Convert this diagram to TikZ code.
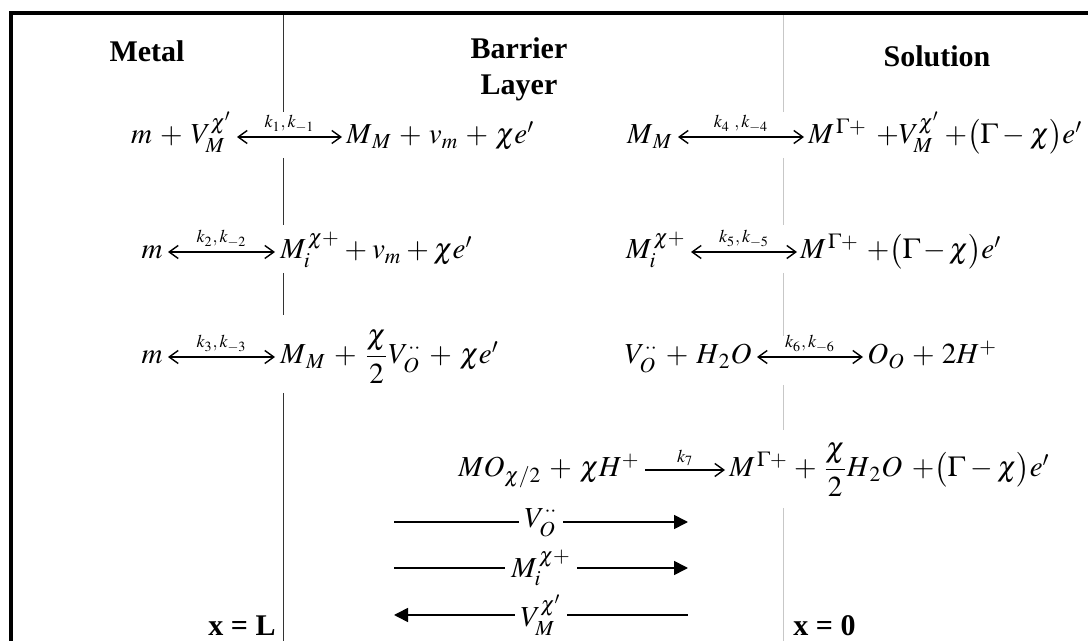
\documentclass[tikz,border=0pt]{standalone}
\usepackage{amsmath}
\usepackage{mathptmx}
\usepackage[no-math]{fontspec}
\setmainfont{Liberation Serif}
\usetikzlibrary{arrows.meta}
\medmuskip=5mu plus 2mu minus 4mu
\begin{document}
\begin{tikzpicture}[x=0.5pt,y=-0.5pt,
  eq/.style={inner sep=0pt, font=\fontsize{14.5}{17}\selectfont},
  eqL/.style={eq, anchor=base east},
  eqR/.style={eq, anchor=base west},
  ttl/.style={inner sep=0pt, font=\fontsize{15}{18}\selectfont\bfseries},
  rx/.style={line width=0.7pt, {Straight Barb[length=4.5pt,width=6.5pt]}-{Straight Barb[length=4.5pt,width=6.5pt]}},
  fx/.style={line width=0.7pt, -{Straight Barb[length=4.5pt,width=6.5pt]}},
  kl/.style={midway, above, inner sep=2pt, font=\fontsize{9}{10}\selectfont},
  flowR/.style={line width=0.8pt, -{Triangle[length=7pt,width=7pt]}},
  flowL/.style={line width=0.8pt, {Triangle[length=7pt,width=7pt]}-},
  flab/.style={eq, fill=white, inner sep=3pt},
  frame/.style={line width=1.85pt, black},
  divL/.style={line width=0.55pt, black!80},
  divR/.style={line width=0.75pt, black!22},
]
\useasboundingbox (0,0) rectangle (1088,641);
% frame
\draw[frame] (11,641) -- (11,13.3) -- (1088,13.3);
% dividers
\draw[divL] (283.5,15) -- (283.5,112) (283.5,158) -- (283.5,225) (283.5,273) -- (283.5,315) (283.5,393) -- (283.5,641);
\draw[divR] (783.5,15) -- (783.5,112) (783.5,158) -- (783.5,225) (783.5,273) -- (783.5,336) (783.5,385) -- (783.5,430) (783.5,508) -- (783.5,641);
% titles
\node[ttl] (metal) at (147,51) {Metal};
\node[ttl, align=center] (barrier) at (519,69) {Barrier\\Layer};
\node[ttl] (sol) at (937,56) {Solution};
\node[ttl, anchor=base east] (xL) at (276,636) {x = L};
\node[ttl, anchor=base west] (x0) at (793,636) {x = 0};
% row 1
\coordinate (a1) at (237,137); \coordinate (b1) at (342,137);
\node[eqL] (r1l) at (232,144) {$m+V_M^{\chi'}$};
\node[eqR] (r1r) at (346,144) {$\medmuskip=4.5mu M_{\,M}+v_m+\chi e'$};
\draw[rx] (a1) -- node[kl]{$k_1,k_{-1}$} (b1);
\coordinate (c1) at (678,137); \coordinate (d1) at (804,137);
\node[eqL] (s1l) at (673,144) {$M_{\,M}$};
\node[eqR] (s1r) at (808,144) {$M^{\,\Gamma+}\mskip6mu{+}V_M^{\chi'}\mskip3mu{+}\bigl(\Gamma\mskip3mu{-}\mskip3mu\chi\bigr)e'$};
\draw[rx] (c1) -- node[kl]{$k_4\ ,k_{-4}$} (d1);
% row 2
\coordinate (a2) at (168,252); \coordinate (b2) at (275,252);
\node[eqL] (r2l) at (163,259) {$m$};
\node[eqR] (r2r) at (280,259) {$\medmuskip=3mu M_i^{\,\chi+}+v_m+\chi e'$};
\draw[rx] (a2) -- node[kl]{$k_2,k_{-2}$} (b2);
\coordinate (c2) at (691,252); \coordinate (d2) at (797,252);
\node[eqL] (s2l) at (686,259) {$M_i^{\,\chi+}$};
\node[eqR] (s2r) at (800,259) {$M^{\,\Gamma+}\mskip5mu{+}\bigl(\Gamma\mskip2mu{-}\mskip2mu\chi\bigr)e'$};
\draw[rx] (c2) -- node[kl]{$k_5,k_{-5}$} (d2);
% row 3
\coordinate (a3) at (168,357); \coordinate (b3) at (275,357);
\node[eqL] (r3l) at (163,364) {$m$};
\node[eqR] (r3r) at (280,364) {$M_{\,M}+\dfrac{\chi}{2}V_O^{\cdot\cdot}+\chi e'$};
\draw[rx] (a3) -- node[kl]{$k_3,k_{-3}$} (b3);
\coordinate (c3) at (757,357); \coordinate (d3) at (863,357);
\node[eqL] (s3l) at (752,364) {$V_O^{\cdot\cdot}+H_{\,2}O$};
\node[eqR] (s3r) at (867,364) {$\medmuskip=4.5mu O_O+2H^+$};
\draw[rx] (c3) -- node[kl]{$k_6,k_{-6}$} (d3);
% row 4
\coordinate (a4) at (645,470); \coordinate (b4) at (725,470);
\node[eqL] (r4l) at (640,477) {$MO_{\chi/2}+\chi H^+$};
\node[eqR] (r4r) at (729,477) {$\medmuskip=4mu M^{\,\Gamma+}+\dfrac{\chi}{2}H_{\,2}O\mskip6mu{+}\bigl(\Gamma\mskip3mu{-}\mskip3mu\chi\bigr)e'$};
\draw[fx] (a4) -- node[kl]{$k_7$} (b4);
% fluxes
\coordinate (p1s) at (394,522); \coordinate (p1e) at (688,522);
\draw[flowR] (p1s) -- node[flab] (f1) {$V_O^{\cdot\cdot}$} (p1e);
\coordinate (p2s) at (394,568); \coordinate (p2e) at (688,568);
\draw[flowR] (p2s) -- node[flab] (f2) {$M_i^{\,\chi+}$} (p2e);
\coordinate (p3s) at (394,615); \coordinate (p3e) at (688,615);
\draw[flowL] (p3s) -- node[flab] (f3) {$V_M^{\chi'}$} (p3e);
\end{tikzpicture}
\end{document}
